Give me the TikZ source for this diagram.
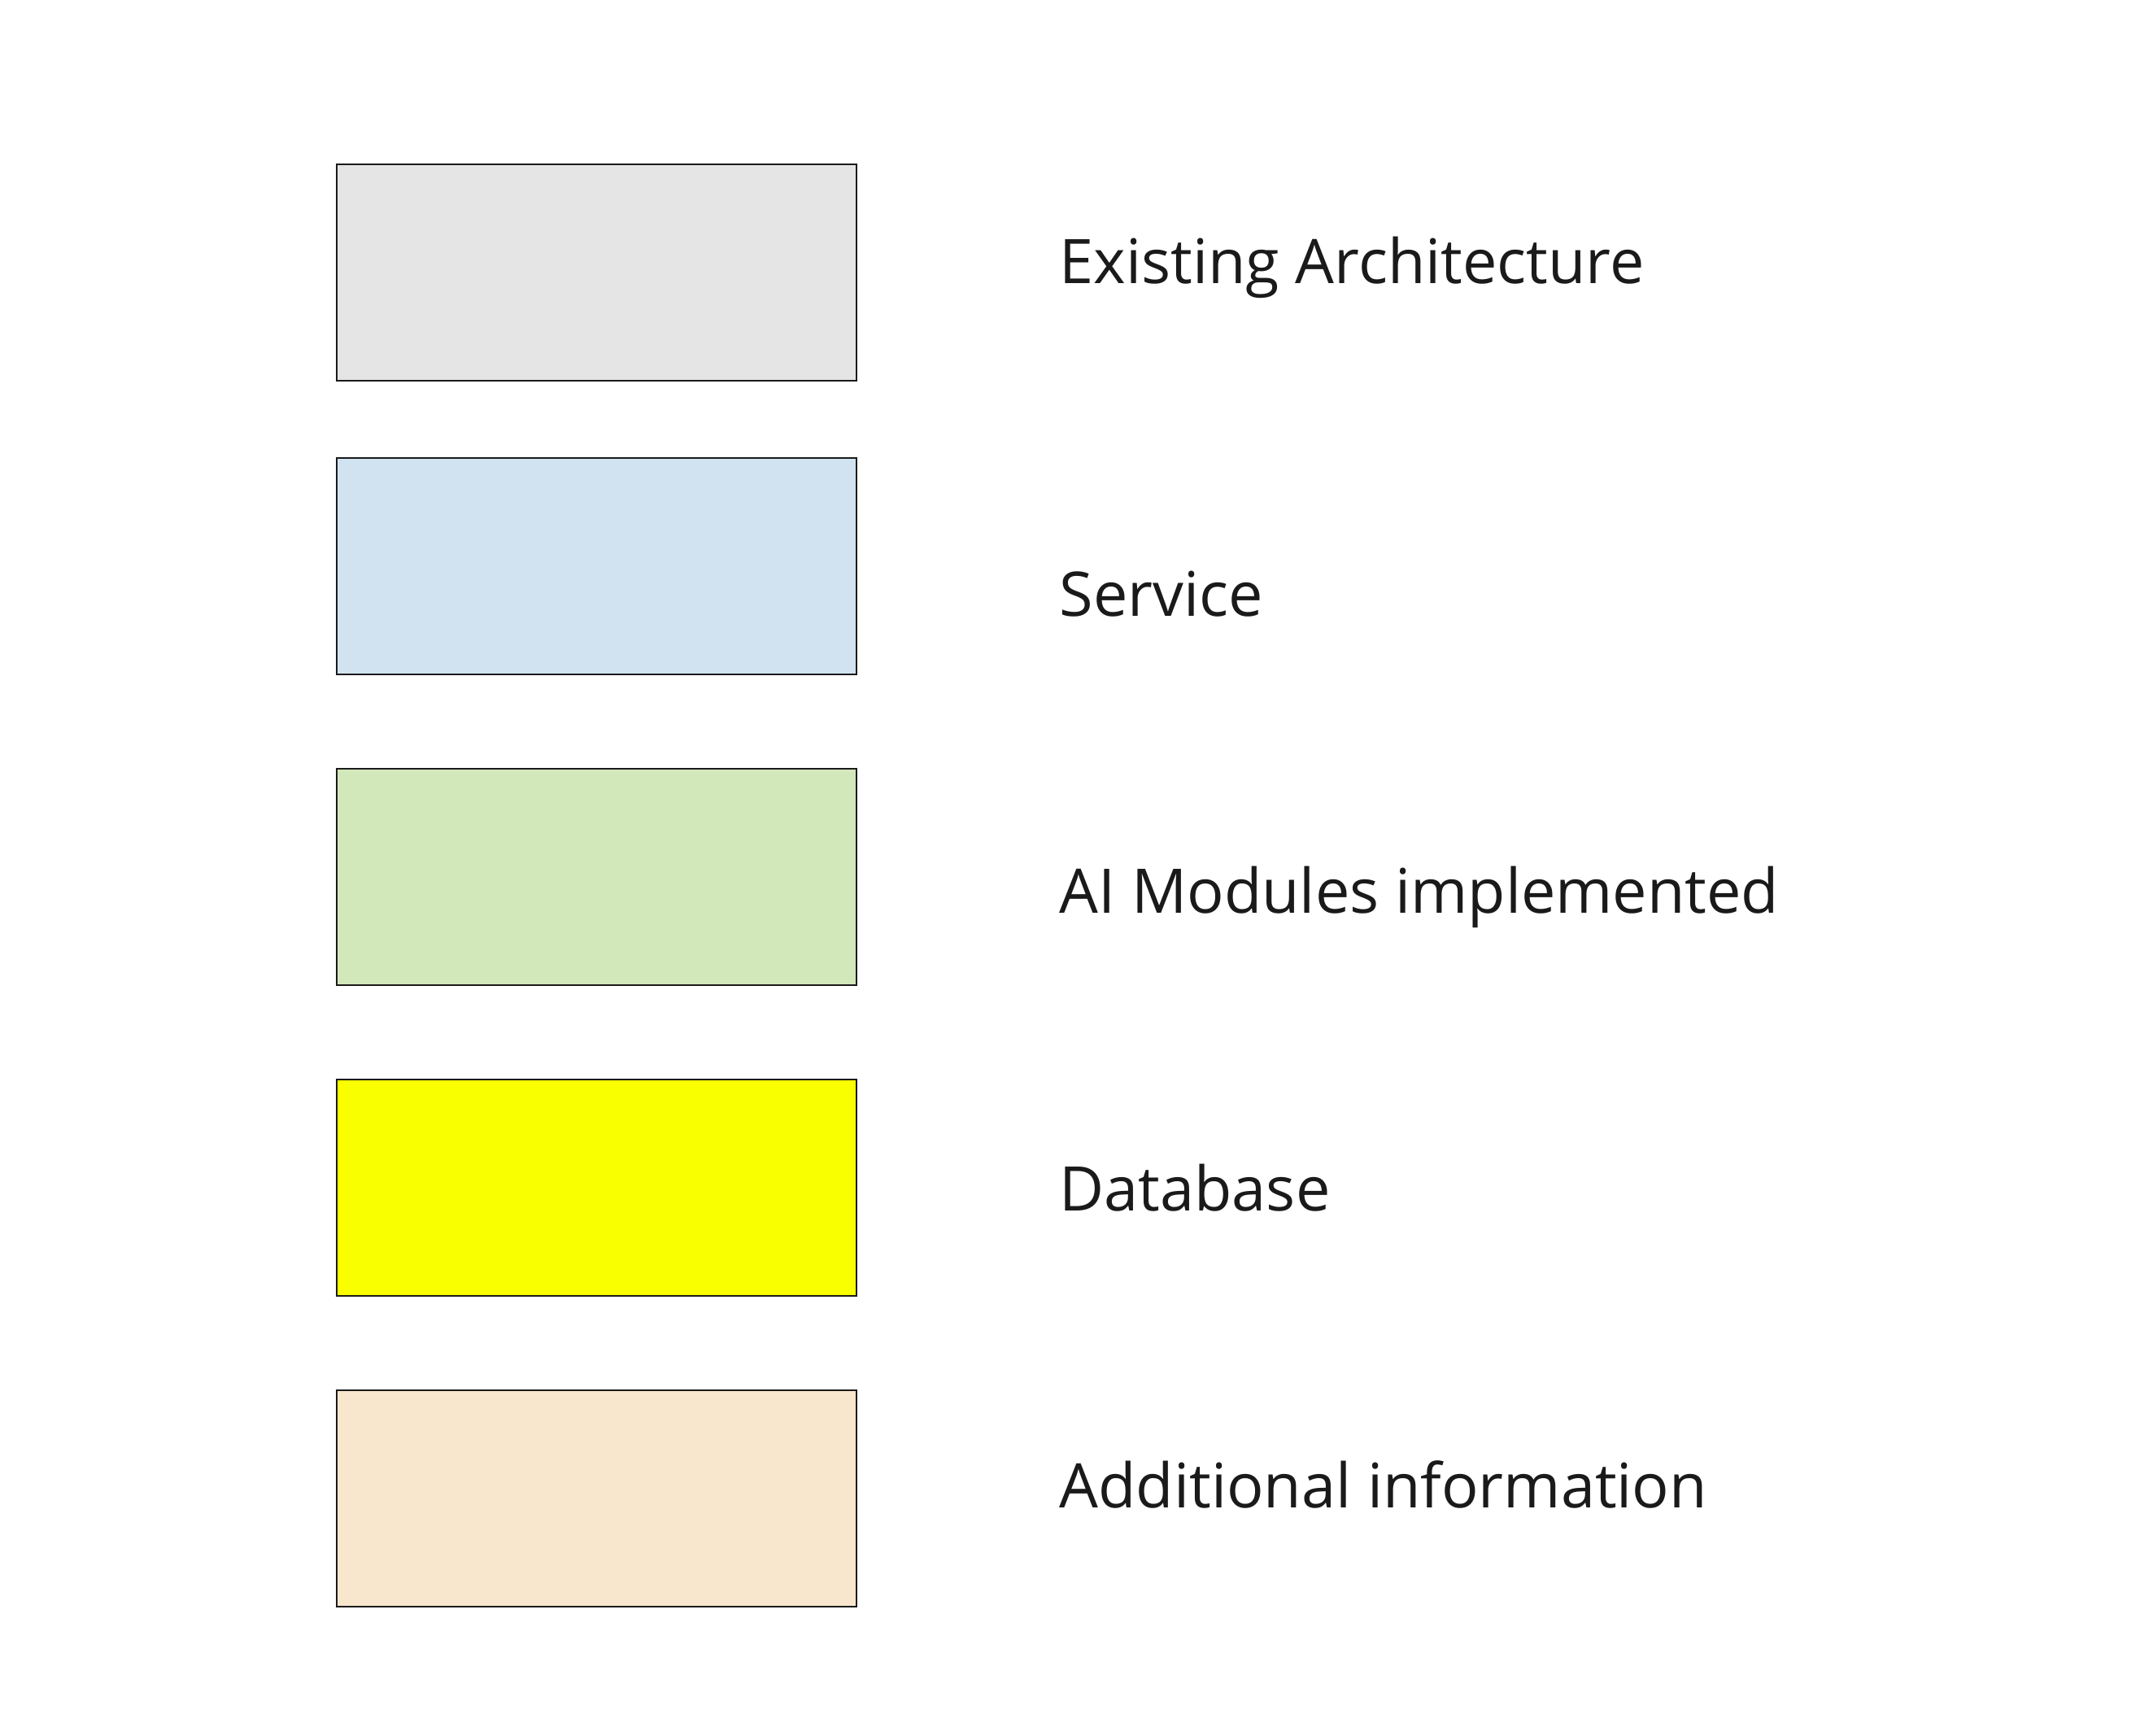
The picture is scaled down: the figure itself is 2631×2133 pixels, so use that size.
\documentclass[tikz,border=0pt]{standalone}
\usepackage{fontspec}
\setmainfont{Open Sans}
\definecolor{legendline}{HTML}{1A1A1A}
\definecolor{existcol}{HTML}{E5E5E5}
\definecolor{servicecol}{HTML}{D1E3F1}
\definecolor{aicol}{HTML}{D2E7BA}
\definecolor{dbcol}{HTML}{FAFF00}
\definecolor{infocol}{HTML}{F9E7CD}
\tikzset{
	keybox/.style={draw=legendline, line width=0.6pt, rectangle, inner sep=0pt,
		minimum width=6.39cm, minimum height=2.66cm, anchor=north west},
	keytext/.style={anchor=base west, inner sep=0pt, text=legendline,
		font=\fontsize{21.5pt}{26pt}\selectfont}
}
\begin{document}
\begin{tikzpicture}[x=0.01cm, y=-0.01cm]
	\useasboundingbox (0,0) rectangle (2631,2133);
		\foreach \i/\top/\col/\base/\txt in {1/201/existcol/348/Existing Architecture,
			2/562/servicecol/757/Service,
			3/944/aicol/1122/AI Modules implemented,
			4/1326/dbcol/1488/Database,
			5/1708/infocol/1853/Additional information}{
				\node[keybox, fill=\col] (box\i) at (413,\top) {};
				\node[keytext] (lbl\i) at (1302,\base) {\txt};
			}
\end{tikzpicture}
\end{document}
